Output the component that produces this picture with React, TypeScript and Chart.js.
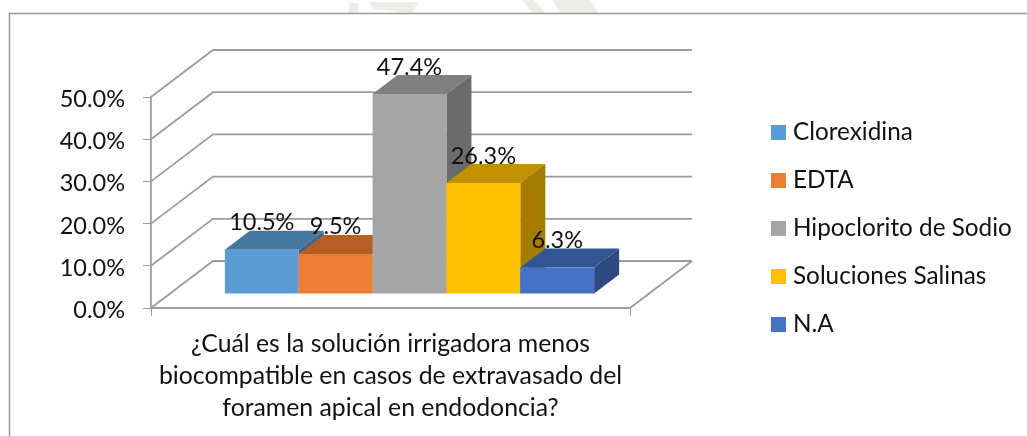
import React, { useEffect, useRef } from "react";
import { Chart, registerables } from "chart.js";

Chart.register(...registerables);

const categories = [["¿Cuál es la solución irrigadora menos", "biocompatible en casos de extravasado del", "foramen apical en endodoncia?"]];
const seriesNames = ["Clorexidina", "EDTA", "Hipoclorito de Sodio", "Soluciones Salinas", "N.A"];
const seriesValues = [10.5, 9.5, 47.4, 26.3, 6.3];
const frontColors = ["#5B9BD5", "#ED7D31", "#A5A5A5", "#FFC000", "#4472C4"];
const topColors = ["#46779F", "#B65F25", "#808080", "#C19100", "#325594"];
const sideColors = ["#3B6690", "#9A5020", "#6B6B6B", "#A67C00", "#2C4A80"];

const FONT = "Lato, 'Open Sans', sans-serif";
const INK = "#111111";
const RULE = "#9C9C9C";
const WALL_DX = 62;
const WALL_DY = -47;
const BAR_SHIFT_X = 19;
const BAR_SHIFT_Y = -14;
const BAR_DEPTH_X = 25;
const BAR_DEPTH_Y = -19;
const LABEL_ABOVE = 27;

// square legend swatch, kept as a canvas so the text can sit close to it
function swatch(color: string) {
  const cv = document.createElement("canvas");
  cv.width = 15;
  cv.height = 15;
  const g = cv.getContext("2d") as CanvasRenderingContext2D;
  g.fillStyle = color;
  g.fillRect(0, 0, 15, 15);
  return cv;
}

const box3d = {
  id: "box3d",
  beforeDraw(chart: any) {
    const c = chart.ctx;
    c.save();
    c.fillStyle = "#FFFFFF";
    c.fillRect(0, 0, chart.width, chart.height);
    // faint background print showing above the frame
    c.fillStyle = "#ECEDE7";
    [
      [[350, 3], [358, 3], [358, 13], [348, 13]],
      [[369, 2], [418, 2], [412, 13], [372, 9]],
      [[522, 0], [534, 0], [545, 13], [533, 13]],
      [[552, 0], [590, 0], [598, 13], [560, 13]],
    ].forEach((poly) => {
      c.beginPath();
      poly.forEach(([px, py], i) => (i ? c.lineTo(px, py) : c.moveTo(px, py)));
      c.closePath();
      c.fill();
    });
    c.strokeStyle = "#999999";
    c.lineWidth = 1.5;
    c.beginPath();
    c.moveTo(9.5, chart.height);
    c.lineTo(9.5, 13.5);
    c.lineTo(chart.width, 13.5);
    c.stroke();
    c.restore();
  },
  afterLayout(chart: any) {
    const lg = chart.legend;
    lg.left = 752.45;
    lg.right = chart.width;
    lg.width = lg.right - lg.left;
    lg.top = 96.65;
  },
  beforeDatasetsDraw(chart: any) {
    const c = chart.ctx;
    const { left, right } = chart.chartArea;
    const y = chart.scales.y;
    const zero = y.getPixelForValue(0);

    c.save();
    c.strokeStyle = RULE;
    c.lineWidth = 1.8;
    y.ticks.forEach((t: any) => {
      const py = y.getPixelForValue(t.value);
      c.beginPath();
      c.moveTo(left, py);
      c.lineTo(left + WALL_DX, py + WALL_DY);
      c.lineTo(right + WALL_DX, py + WALL_DY);
      c.stroke();
    });
    c.beginPath();
    c.moveTo(left, zero);
    c.lineTo(right, zero);
    c.lineTo(right + WALL_DX, zero + WALL_DY);
    c.stroke();
    c.restore();

    c.save();
    c.translate(BAR_SHIFT_X, BAR_SHIFT_Y);
    seriesValues.forEach((_, i) => {
      const el = chart.getDatasetMeta(i).data[0];
      const x0 = el.x - el.width / 2;
      const x1 = el.x + el.width / 2;
      c.fillStyle = topColors[i];
      c.beginPath();
      c.moveTo(x0, el.y);
      c.lineTo(x1, el.y);
      c.lineTo(x1 + BAR_DEPTH_X, el.y + BAR_DEPTH_Y);
      c.lineTo(x0 + BAR_DEPTH_X, el.y + BAR_DEPTH_Y);
      c.closePath();
      c.fill();
      c.fillStyle = sideColors[i];
      c.beginPath();
      c.moveTo(x1, el.y);
      c.lineTo(x1 + BAR_DEPTH_X, el.y + BAR_DEPTH_Y);
      c.lineTo(x1 + BAR_DEPTH_X, el.base + BAR_DEPTH_Y);
      c.lineTo(x1, el.base);
      c.closePath();
      c.fill();
      el.draw(c);
    });
    c.fillStyle = INK;
    c.font = `23.5px ${FONT}`;
    c.textAlign = "center";
    c.textBaseline = "middle";
    seriesValues.forEach((v, i) => {
      const el = chart.getDatasetMeta(i).data[0];
      c.fillText(v.toFixed(1) + "%", el.x, el.y - LABEL_ABOVE);
    });
    c.restore();
    return false;
  },
};

export default function App() {
  const ref = useRef<HTMLCanvasElement>(null);
  useEffect(() => {
    const swatches = frontColors.map(swatch);
    const chart = new Chart(ref.current as HTMLCanvasElement, {
      type: "bar",
      plugins: [box3d],
      data: {
        labels: categories as any,
        datasets: seriesNames.map((name, i) => ({
          label: name,
          data: [seriesValues[i]],
          backgroundColor: frontColors[i],
          borderWidth: 0,
          categoryPercentage: 0.771,
          barPercentage: 1,
        })),
      },
      options: {
        animation: false,
        responsive: false,
        layout: { padding: { top: 97, left: 0, right: 137, bottom: 0 } },
        plugins: {
          tooltip: { enabled: false },
          legend: {
            position: "right",
            align: "start",
            maxWidth: 260,
            labels: {
              usePointStyle: true,
              pointStyleWidth: 4.7,
              boxHeight: 15,
              padding: 23.7,
              color: INK,
              font: { family: FONT, size: 24.3 },
              generateLabels: () =>
                seriesNames.map((name, i) => ({
                  text: name,
                  fillStyle: frontColors[i],
                  strokeStyle: frontColors[i],
                  lineWidth: 0,
                  pointStyle: swatches[i],
                  datasetIndex: i,
                  fontColor: INK,
                })),
            },
          },
        },
        scales: {
          x: {
            afterFit(s: any) {
              s.height = 128;
            },
            grid: { drawOnChartArea: false, drawTicks: true, tickLength: 8, color: RULE, offset: true },
            border: { display: false },
            ticks: {
              color: INK,
              font: { family: FONT, size: 24.8, lineHeight: "32px" },
              padding: 12,
              maxRotation: 0,
              minRotation: 0,
              autoSkip: false,
            },
          },
          y: {
            min: 0,
            max: 50,
            afterFit(s: any) {
              s.width = 151;
            },
            grid: { drawOnChartArea: false, drawTicks: true, tickLength: 8, color: RULE },
            border: { display: true, color: RULE, width: 1.8 },
            ticks: {
              stepSize: 10,
              color: INK,
              font: { family: FONT, size: 23.5, lineHeight: "5px" },
              padding: 18,
              callback: (v: any) => ["", Number(v).toFixed(1) + "%"],
            },
          },
        },
      } as any,
    });
    return () => chart.destroy();
  }, []);
  return (
    <canvas
      ref={ref}
      width={1027}
      height={436}
      style={{ position: "absolute", left: 0, top: 0, display: "block" }}
    />
  );
}
